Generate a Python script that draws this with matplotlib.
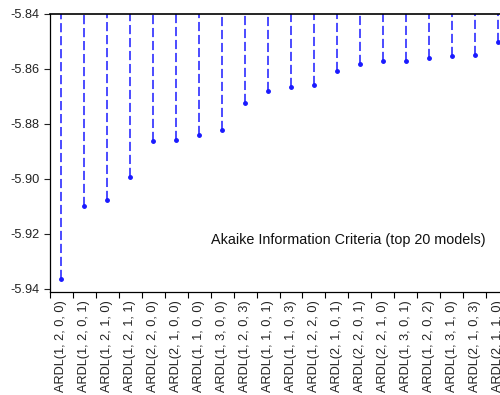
import numpy as np
import matplotlib.pyplot as plt
from matplotlib.ticker import FixedLocator

plt.rcParams['font.family'] = ['Liberation Sans', 'DejaVu Sans']

models = ['ARDL(1, 2, 0, 0)', 'ARDL(1, 2, 0, 1)', 'ARDL(1, 2, 1, 0)', 'ARDL(1, 2, 1, 1)',
          'ARDL(2, 2, 0, 0)', 'ARDL(2, 1, 0, 0)', 'ARDL(1, 1, 0, 0)', 'ARDL(1, 3, 0, 0)',
          'ARDL(1, 2, 0, 3)', 'ARDL(1, 1, 0, 1)', 'ARDL(1, 1, 0, 3)', 'ARDL(1, 2, 2, 0)',
          'ARDL(2, 1, 0, 1)', 'ARDL(2, 2, 0, 1)', 'ARDL(2, 2, 1, 0)', 'ARDL(1, 3, 0, 1)',
          'ARDL(1, 2, 0, 2)', 'ARDL(1, 3, 1, 0)', 'ARDL(2, 1, 0, 3)', 'ARDL(2, 1, 1, 0)']
aic = [-5.9365, -5.9098, -5.9078, -5.8992, -5.8863, -5.8859, -5.8839, -5.8823,
       -5.8724, -5.8679, -5.8667, -5.8659, -5.8607, -5.8583, -5.8572, -5.8571,
       -5.8560, -5.8552, -5.8550, -5.8503]
yticks = [-5.94, -5.92, -5.90, -5.88, -5.86, -5.84]

fig = plt.figure(figsize=(5, 3.95), dpi=100)
# axes runs a little past the right edge, like the cropped original
ax = fig.add_axes([0.1, 0.2608, 0.918, 0.7038])

x = np.arange(len(models))
ax.vlines(x, aic, -5.84, colors='#1a1aff', linestyles=(0, (6, 2.5)), linewidth=1.1)
ax.plot(x, aic, 'o', color='#1a1aff', markersize=2.5)

ax.set_xlim(-0.5, len(models) - 0.5)
ax.set_ylim(-5.94 - 3 / 2750, -5.84)
ax.set_yticks(yticks)
ax.set_yticklabels(['%.2f' % v for v in yticks])
ax.set_xticks(x)
ax.set_xticklabels(models, rotation=90, va='top')
ax.xaxis.set_minor_locator(FixedLocator(np.arange(len(models) + 1) - 0.5))
ax.tick_params(axis='x', which='major', length=0, pad=6, labelsize=9.2, colors='#222222')
ax.tick_params(axis='x', which='minor', length=4, width=0.8, direction='out')
ax.tick_params(axis='y', length=4, width=0.8, direction='out', labelsize=9.2, colors='#222222')
ax.spines['right'].set_visible(False)
for s in ['left', 'top', 'bottom']:
    ax.spines[s].set_linewidth(0.9)
ax.spines['top'].set_linewidth(1.2)

fig.text(211 / 500, 1 - 240 / 395, 'Akaike Information Criteria (top 20 models)',
         fontsize=10.4, va='center', ha='left', color='#111111')

fig.savefig('out.png', dpi=100)
